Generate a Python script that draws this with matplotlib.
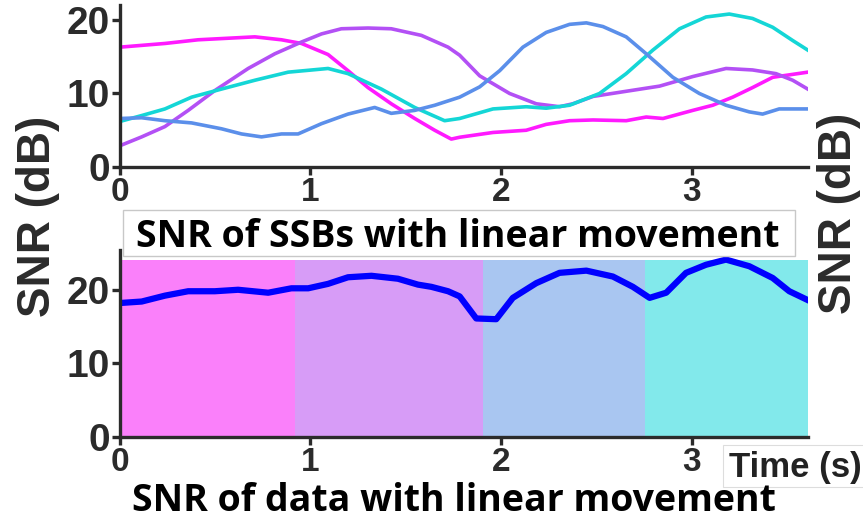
import matplotlib
matplotlib.use('Agg')
import matplotlib.pyplot as plt
from matplotlib.patches import Rectangle

# ---- data (time in s, SNR in dB) ----
t_mag = [0, 0.236, 0.41, 0.708, 0.848, 0.953, 1.092, 1.197, 1.302, 1.424, 1.547, 1.652, 1.739, 1.783,
         1.958, 2.132, 2.237, 2.36, 2.483, 2.657, 2.762, 2.85, 3.006, 3.111, 3.216, 3.32, 3.426, 3.531, 3.61]
v_mag = [16.3, 16.8, 17.3, 17.7, 17.3, 16.8, 15.3, 13.1, 10.8, 8.6, 6.6, 5.0, 3.8, 4.05,
         4.7, 5.0, 5.8, 6.3, 6.4, 6.3, 6.8, 6.6, 7.7, 8.4, 9.5, 10.8, 12.2, 12.6, 12.9]

t_pur = [0, 0.114, 0.236, 0.358, 0.498, 0.673, 0.813, 0.953, 1.058, 1.162, 1.302, 1.424, 1.582, 1.722,
         1.783, 1.888, 2.045, 2.185, 2.307, 2.377, 2.483, 2.657, 2.832, 3.006, 3.181, 3.32, 3.443, 3.531, 3.61]
v_pur = [2.9, 4.1, 5.5, 7.7, 10.4, 13.4, 15.4, 17.0, 18.1, 18.8, 18.9, 18.8, 17.9, 16.3,
         15.2, 12.4, 10.0, 8.6, 8.2, 8.6, 9.6, 10.3, 11.0, 12.3, 13.4, 13.2, 12.7, 11.8, 10.6]

t_cya = [0, 0.114, 0.236, 0.376, 0.533, 0.708, 0.883, 1.092, 1.197, 1.372, 1.547, 1.704, 1.783,
         1.958, 2.132, 2.237, 2.36, 2.517, 2.657, 2.797, 2.937, 3.076, 3.198, 3.32, 3.426, 3.531, 3.61]
v_cya = [6.2, 7.0, 7.9, 9.5, 10.6, 11.8, 12.9, 13.4, 12.7, 10.6, 8.1, 6.3, 6.6,
         7.9, 8.2, 8.0, 8.4, 10.0, 12.7, 15.9, 18.8, 20.4, 20.8, 20.2, 19.0, 17.2, 15.9]

t_blu = [0, 0.114, 0.236, 0.376, 0.533, 0.638, 0.743, 0.848, 0.935, 1.058, 1.197, 1.337, 1.424, 1.547, 1.652,
         1.783, 1.888, 1.993, 2.115, 2.237, 2.36, 2.448, 2.535, 2.657, 2.762, 2.902, 3.041, 3.181, 3.303, 3.373, 3.46, 3.61]
v_blu = [6.6, 6.7, 6.3, 6.0, 5.2, 4.5, 4.1, 4.5, 4.5, 5.9, 7.2, 8.1, 7.3, 7.7, 8.4,
         9.5, 10.9, 13.1, 16.3, 18.3, 19.4, 19.6, 19.1, 17.7, 15.4, 12.2, 10.0, 8.4, 7.5, 7.2, 7.9, 7.9]

t_dat = [0, 0.114, 0.236, 0.358, 0.498, 0.62, 0.778, 0.9, 0.988, 1.092, 1.197, 1.32, 1.459, 1.564, 1.634, 1.722,
         1.783, 1.87, 1.975, 2.062, 2.185, 2.307, 2.448, 2.587, 2.692, 2.78, 2.867, 2.971, 3.076, 3.181, 3.303,
         3.426, 3.513, 3.61]
v_dat = [18.2, 18.4, 19.2, 19.8, 19.8, 20.0, 19.6, 20.2, 20.2, 20.8, 21.7, 21.9, 21.5, 20.7, 20.4, 19.8,
         19.1, 16.1, 16.0, 18.9, 20.9, 22.3, 22.6, 21.8, 20.4, 18.9, 19.6, 22.3, 23.4, 24.1, 23.2,
         21.6, 19.8, 18.6]

# beam segments behind the lower curve
seg_edges = [0, 0.918, 1.905, 2.757, 3.61]
seg_colors = ['#fa80fa', '#d79cf7', '#a9c6f1', '#82e9eb']

line_colors = ['#ff1aff', '#b350f5', '#14d6d6', '#5b8fea']

tick_font = {'family': 'Liberation Sans', 'weight': 'bold'}
dark = '#2b2b2b'
W, H = 863, 522


def style_axes(ax, ymax):
    for s in ['top', 'right']:
        ax.spines[s].set_visible(False)
    for s in ['left', 'bottom']:
        ax.spines[s].set_linewidth(2.4)
        ax.spines[s].set_color(dark)
    ax.set_xlim(0, 3.61)
    ax.set_ylim(0, ymax)
    ax.set_xticks([0, 1, 2, 3])
    ax.set_yticks([0, 10, 20])
    ax.tick_params(axis='both', direction='out', length=6, width=2.4, color=dark, pad=1)
    for lab in ax.get_xticklabels():
        lab.set_fontproperties(tick_font)
        lab.set_fontsize(24)
        lab.set_color(dark)
    for lab in ax.get_yticklabels():
        lab.set_fontproperties(tick_font)
        lab.set_fontsize(28)
        lab.set_color(dark)


fig = plt.figure(figsize=(8.63, 5.22), dpi=100)

# top: SNR of each SSB
ax1 = fig.add_axes([0.139, 0.680, 0.797, 0.310])
for tt, vv, c in zip([t_mag, t_pur, t_cya, t_blu], [v_mag, v_pur, v_cya, v_blu], line_colors):
    ax1.plot(tt, vv, color=c, lw=2.6, solid_joinstyle='round')
style_axes(ax1, 22.0)

# bottom: SNR of data
ax2 = fig.add_axes([0.139, 0.163, 0.797, 0.358])
for i in range(len(seg_colors)):
    ax2.fill_between([seg_edges[i], seg_edges[i + 1]], 0, 24.1, color=seg_colors[i], lw=0)
ax2.plot(t_dat, v_dat, color='#0000ff', lw=4.5, solid_joinstyle='round')
style_axes(ax2, 25.4)

# boxed caption between the panels
fig.patches.append(Rectangle((123 / W, 1 - 256 / H), 672 / W, 46 / H, transform=fig.transFigure,
                             fc='white', ec='#c8c8c8', lw=1, zorder=3))
fig.text(0.530, 1 - 247 / H, 'SNR of SSBs with linear movement', ha='center', va='baseline',
         fontsize=27, color='black', family='Open Sans', fontweight='bold', zorder=4)
fig.text(0.526, 1 - 511 / H, 'SNR of data with linear movement', ha='center', va='baseline',
         fontsize=27, color='black', family='Open Sans', fontweight='bold')

fig.patches.append(Rectangle((723 / W, 1 - 487 / H), 150 / W, 42 / H, transform=fig.transFigure,
                             fc='white', ec='#dddddd', lw=0.8, zorder=3))
fig.text(729 / W, 1 - 477 / H, 'Time (s)', ha='left', va='baseline', fontsize=25, color='#222222',
         family='Liberation Sans', fontweight='bold', zorder=4)

fig.text(0.044, 0.585, 'SNR (dB)', rotation=90, ha='center', va='center',
         fontsize=33, color=dark, family='Liberation Sans', fontweight='bold')
fig.text(0.972, 0.592, 'SNR (dB)', rotation=90, ha='center', va='center',
         fontsize=33, color=dark, family='Liberation Sans', fontweight='bold')

fig.savefig('out.png', dpi=100)
